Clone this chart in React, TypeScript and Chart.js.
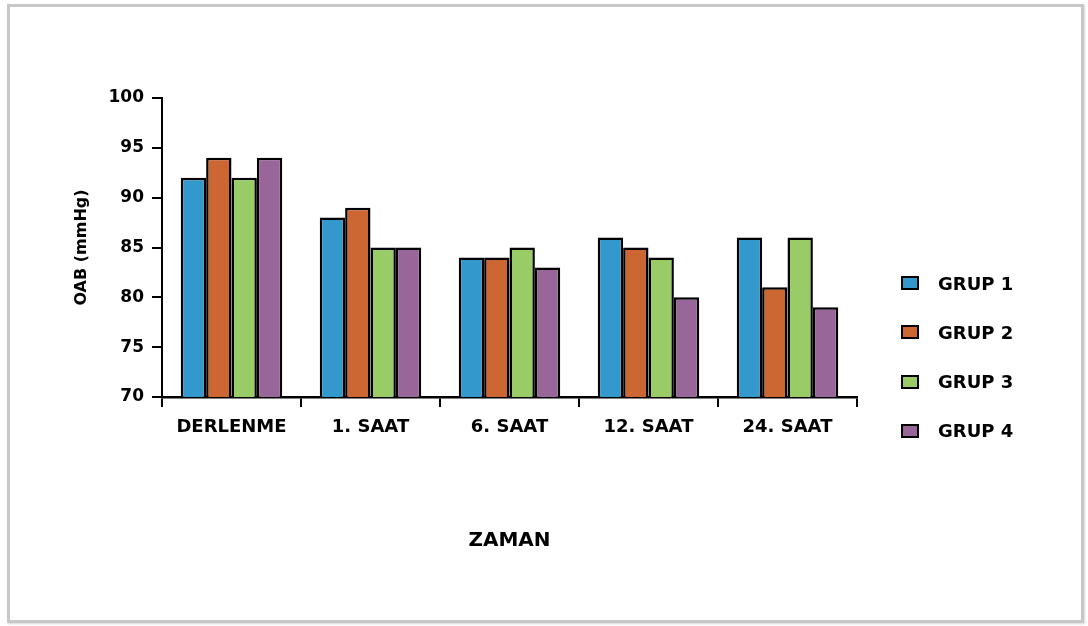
import React, { useEffect, useRef } from "react";
import { Chart, registerables } from "chart.js";

Chart.register(...registerables);

const categories = ["DERLENME", "1. SAAT", "6. SAAT", "12. SAAT", "24. SAAT"];
const seriesNames = ["GRUP 1", "GRUP 2", "GRUP 3", "GRUP 4"];
const grup1 = [92, 88, 84, 86, 86];
const grup2 = [94, 89, 84, 85, 81];
const grup3 = [92, 85, 85, 84, 86];
const grup4 = [94, 85, 83, 80, 79];
const seriesColors = ["#3399cc", "#cc6633", "#99cc66", "#996699"];
const yMin = 70;
const yMax = 100;
const yStep = 5;
const xTitle = "ZAMAN";
const yTitle = "OAB (mmHg)";

const FONT = "'DejaVu Sans', 'Liberation Sans', Arial, sans-serif";

export default function App() {
  const ref = useRef<HTMLCanvasElement | null>(null);

  useEffect(() => {
    if (!ref.current) return;
    const values = [grup1, grup2, grup3, grup4];
    const chart = new Chart(ref.current, {
      type: "bar",
      data: {
        labels: categories,
        datasets: seriesNames.map((name, i) => ({
          label: name,
          data: values[i],
          backgroundColor: seriesColors[i],
          borderColor: "#000",
          borderWidth: 2.5,
          barPercentage: 1,
          categoryPercentage: 0.73,
        })),
      },
      options: {
        responsive: false,
        animation: false,
        layout: { padding: { top: 98, right: 231, left: 0, bottom: 0 } },
        plugins: { legend: { display: false }, tooltip: { enabled: false } },
        scales: {
          x: {
            afterFit: (s: any) => {
              s.height = 229;
            },
            grid: {
              drawOnChartArea: false,
              drawTicks: true,
              tickLength: 10,
              color: "#000",
              lineWidth: 2,
            },
            border: { color: "#000", width: 2.5 },
            ticks: {
              color: "#000",
              padding: 10,
              maxRotation: 0,
              font: { family: FONT, size: 18, weight: "bold" },
            },
            title: {
              display: true,
              text: xTitle,
              color: "#000",
              padding: { top: 0, bottom: 73 },
              font: { family: FONT, size: 20, weight: "bold" },
            },
          },
          y: {
            min: yMin,
            max: yMax,
            afterFit: (s: any) => {
              s.width = 162;
            },
            grid: {
              drawOnChartArea: false,
              drawTicks: true,
              tickLength: 10,
              color: "#000",
              lineWidth: 2,
            },
            border: { color: "#000", width: 2 },
            ticks: {
              stepSize: yStep,
              color: "#000",
              padding: 8,
              font: { family: FONT, size: 17, weight: "bold" },
            },
            title: {
              display: true,
              text: yTitle,
              color: "#000",
              padding: { top: 72, bottom: 0 },
              font: { family: FONT, size: 16, weight: "bold" },
            },
          },
        },
      },
    });
    return () => chart.destroy();
  }, []);

  const legendTop = 283;
  const legendGap = 49.3;

  return (
    <div>
      <div
        style={{
          position: "fixed",
          left: 7,
          top: 4,
          width: 1077,
          height: 619,
          boxSizing: "border-box",
          border: "3px solid #c8c8c8",
          boxShadow: "1px 1px 2px #d8d8d8",
          background: "#fff",
        }}
      />
      <canvas
        ref={ref}
        width={1088}
        height={626}
        style={{ position: "fixed", left: 0, top: 0, width: 1088, height: 626 }}
      />
      {seriesNames.map((name, i) => (
        <div
          key={name}
          style={{
            position: "fixed",
            left: 901,
            top: legendTop + i * legendGap - 11,
            height: 22,
            display: "flex",
            alignItems: "center",
            fontFamily: FONT,
            fontWeight: "bold",
            fontSize: 18,
            color: "#000",
            whiteSpace: "nowrap",
          }}
        >
          <span
            style={{
              display: "inline-block",
              width: 18,
              height: 14,
              boxSizing: "border-box",
              border: "2px solid #000",
              background: seriesColors[i],
              marginRight: 19,
            }}
          />
          <span>{name}</span>
        </div>
      ))}
    </div>
  );
}
